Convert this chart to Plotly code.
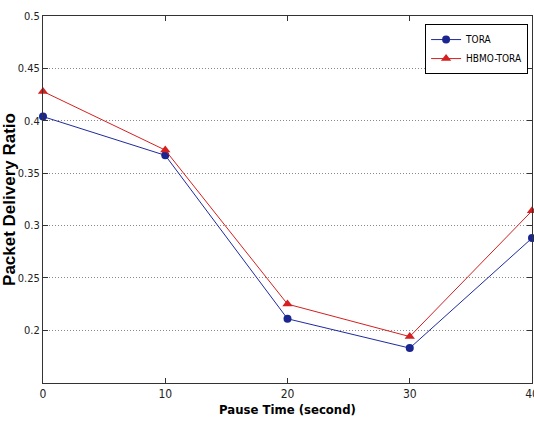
import plotly.graph_objects as go

pause_time = [0, 10, 20, 30, 40]
tora = [0.404, 0.367, 0.211, 0.183, 0.288]
hbmo_tora = [0.428, 0.372, 0.225, 0.194, 0.314]
y_ticks = [0.2, 0.25, 0.3, 0.35, 0.4, 0.45, 0.5]
y_tick_text = ["0.2", "0.25", "0.3", "0.35", "0.4", "0.45", "0.5"]
x_ticks = [0, 10, 20, 30, 40]

narrow = "DejaVu Sans Condensed, Liberation Sans Narrow, Arial Narrow, sans-serif"

fig = go.Figure()
fig.add_trace(go.Scatter(
    x=pause_time, y=tora, name="TORA", mode="lines+markers",
    line=dict(color="#1f2a9e", width=1),
    marker=dict(symbol="circle", size=8, color="#1a2590"),
    cliponaxis=False,
))
fig.add_trace(go.Scatter(
    x=pause_time, y=hbmo_tora, name="HBMO-TORA", mode="lines+markers",
    line=dict(color="#d42020", width=1),
    marker=dict(symbol="triangle-up", size=9, color="#d42020"),
    cliponaxis=False,
))

fig.update_layout(
    width=534, height=423,
    margin=dict(l=43, r=2, t=16, b=40, autoexpand=False),
    paper_bgcolor="white", plot_bgcolor="white",
    font=dict(family=narrow, size=12, color="#222"),
    showlegend=True,
    legend=dict(
        x=0.992, y=0.978, xanchor="right", yanchor="top",
        bgcolor="white", bordercolor="black", borderwidth=1,
        font=dict(family=narrow, size=10, color="black"),
        tracegroupgap=0, itemwidth=30,
    ),
    xaxis=dict(
        range=[0, 40], tickvals=x_ticks,
        showgrid=False, zeroline=False, automargin=False,
        showline=True, linecolor="#333", linewidth=1, mirror="ticks",
        ticks="inside", ticklen=5, tickcolor="#333",
        ticklabeloverflow="allow",
        tickfont=dict(family=narrow, size=12, color="#222"),
        title=dict(text="<b>Pause Time (second)</b>", standoff=4,
                   font=dict(family=narrow, size=13, color="black")),
    ),
    yaxis=dict(
        range=[0.1497, 0.5], tickvals=y_ticks, ticktext=y_tick_text,
        showgrid=True, gridcolor="#8a8a8a", griddash="1px,2px", gridwidth=1,
        zeroline=False, automargin=False,
        showline=True, linecolor="#333", linewidth=1, mirror="ticks",
        ticks="inside", ticklen=5, tickcolor="#333",
        tickfont=dict(family=narrow, size=11, color="#222"),
        title=dict(text="<b>Packet Delivery Ratio</b>", standoff=0,
                   font=dict(family="Liberation Sans, Arial, sans-serif", size=17, color="black")),
    ),
)

fig.write_html("out.html", config={"displayModeBar": False})

with open("out.html", "r", encoding="utf-8") as f:
    html = f.read()
html = html.replace("<head>", "<head><style>html,body{margin:0;padding:0;overflow:hidden;}</style>", 1)
with open("out.html", "w", encoding="utf-8") as f:
    f.write(html)
